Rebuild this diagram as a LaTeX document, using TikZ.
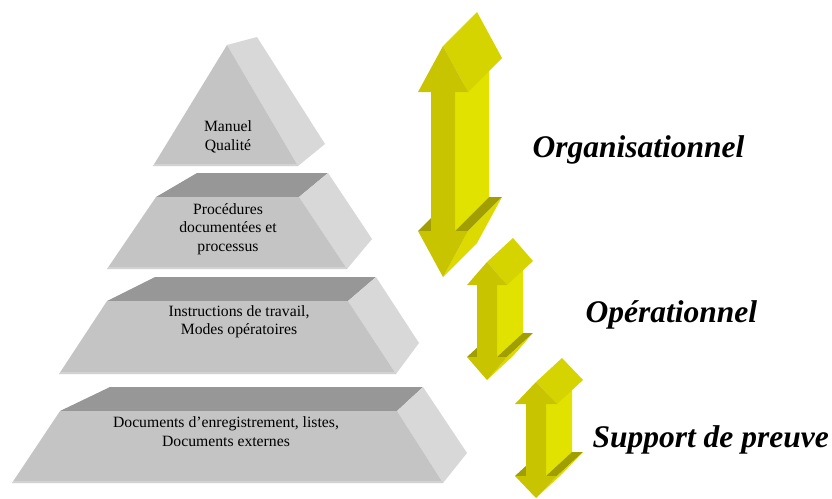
\documentclass[tikz,border=0pt]{standalone}
\usepackage{fontspec}
\setmainfont{Liberation Serif}
\definecolor{frontgray}{HTML}{C4C4C4}
\definecolor{sidegray}{HTML}{D8D8D8}
\definecolor{topgray}{HTML}{979797}
\definecolor{rimgray}{HTML}{D2D2D2}
\definecolor{arrowfront}{HTML}{C8C400}
\definecolor{arrowside}{HTML}{E2E200}
\definecolor{arrowtop}{HTML}{D6D400}
\definecolor{arrowlow}{HTML}{DCDA00}
\definecolor{arrowdark}{HTML}{A09E00}
\tikzset{
  front/.style={fill=frontgray},
  side/.style={fill=sidegray},
  topface/.style={fill=topgray},
  rim/.style={draw=rimgray, line width=2pt},
  levellabel/.style={align=center, font=\fontsize{15.7}{18.5}\selectfont},
  sidelabel/.style={anchor=base west, font=\fontsize{31.5}{36}\selectfont\bfseries\itshape}
}
% 3D double arrow: centre x, top y, bottom y, head half width, shaft half width, head height, depth x, depth y
\newcommand{\yarrow}[8]{%
  \fill[arrowdark] ({#1-#4},{#3-#6}) -- ({#1-#5},{#3-#6}) -- ++(#7,#8) -- ({#1-#4+#7},{#3-#6+#8}) -- cycle;
  \fill[arrowside] ({#1+#5},{#2+#6}) -- ({#1+#5},{#3-#6}) -- ++(#7,#8) -- ({#1+#5+#7},{#2+#6+#8}) -- cycle;
  \fill[arrowdark] ({#1+#5},{#3-#6}) -- ({#1+#4},{#3-#6}) -- ++(#7,#8) -- ({#1+#5+#7},{#3-#6+#8}) -- cycle;
  \fill[arrowlow] ({#1+#4},{#3-#6}) -- (#1,#3) -- ++(#7,#8) -- ({#1+#4+#7},{#3-#6+#8}) -- cycle;
  \fill[arrowtop] (#1,#2) -- ({#1+#4},{#2+#6}) -- ++(#7,#8) -- ({#1+#7},{#2+#8}) -- cycle;
  \fill[arrowfront] (#1,#2) -- ({#1+#4},{#2+#6}) -- ({#1+#5},{#2+#6}) -- ({#1+#5},{#3-#6})
    -- ({#1+#4},{#3-#6}) -- (#1,#3) -- ({#1-#4},{#3-#6}) -- ({#1-#5},{#3-#6})
    -- ({#1-#5},{#2+#6}) -- ({#1-#4},{#2+#6}) -- cycle;
}
\begin{document}
\begin{tikzpicture}[x=1pt, y=-1pt]
  \useasboundingbox (0,0) rectangle (832,498);
  % Top level (triangle)
  \fill[side] (227,45) -- (257,37) -- (325,144) -- (298,166) -- cycle;
  \fill[front] (227,45) -- (298,166) -- (153,166) -- cycle;
  \draw[rim] (154,165) -- (297,165);
  \node[levellabel] (manuel) at (228,137) {Manuel\\Qualité};
  % Second level
  \fill[topface] (156,197) -- (197,173) -- (328,173) -- (299,197) -- cycle;
  \fill[side] (299,197) -- (328,173) -- (372,239) -- (347,269) -- cycle;
  \fill[front] (156,197) -- (299,197) -- (347,269) -- (107,269) -- cycle;
  \draw[rim] (108,268) -- (346,268);
  \node[levellabel] (procedures) at (228,229) {Procédures\\documentées et\\processus};
  % Third level
  \fill[topface] (107,301) -- (155,277) -- (376,277) -- (348,301) -- cycle;
  \fill[side] (348,301) -- (376,277) -- (419,343) -- (396,374) -- cycle;
  \fill[front] (107,301) -- (348,301) -- (396,374) -- (59,374) -- cycle;
  \draw[rim] (60,373) -- (395,373);
  \node[levellabel] (instructions) at (239,321.5) {Instructions de travail,\\Modes opératoires};
  % Bottom level
  \fill[topface] (60,411) -- (110,387) -- (423,387) -- (397,411) -- cycle;
  \fill[side] (397,411) -- (423,387) -- (467,453) -- (443,483) -- cycle;
  \fill[front] (60,411) -- (397,411) -- (443,483) -- (12,483) -- cycle;
  \draw[rim] (13,482) -- (442,482);
  \node[levellabel] (documents) at (226,431.5) {Documents d’enregistrement, listes,\\Documents externes};
  % Arrows
  \yarrow{443}{46}{277}{25}{12}{46}{34}{-34}
  \yarrow{487}{262}{380}{20}{10}{23}{26}{-24}
  \yarrow{536}{382}{498}{21}{10}{22}{26}{-24}
  % Labels
  \node[sidelabel] (orga) at (529,157) {Organisationnel};
  \node[sidelabel] (opera) at (582,322) {Opérationnel};
  \node[sidelabel] (support) at (589,447) {Support de preuve};
\end{tikzpicture}
\end{document}
